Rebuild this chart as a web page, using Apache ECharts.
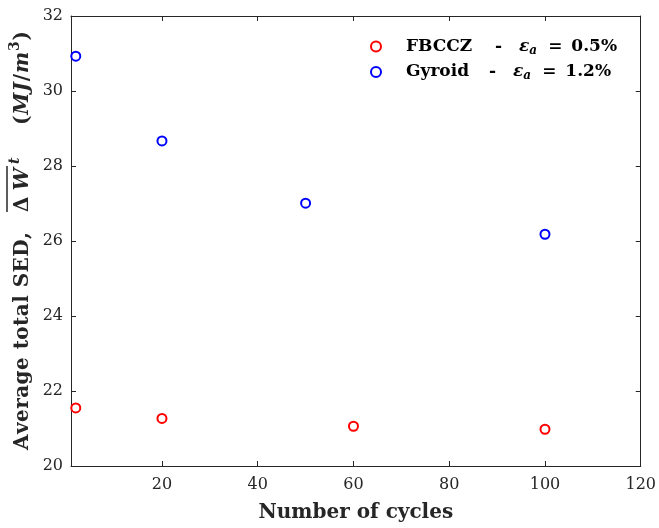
<!DOCTYPE html>
<html>
<head>
<meta charset="utf-8">
<script src="https://cdn.jsdelivr.net/npm/echarts@6/dist/echarts.min.js"></script>
<style>
  html, body { margin: 0; padding: 0; background: #fff; }
  #chart { width: 659px; height: 528px; }
</style>
</head>
<body>
<div id="chart"></div>
<script>
// Average total strain energy density vs. number of cycles
const fbcczCycles = [2, 20, 60, 100];
const fbcczSED = [21.55, 21.27, 21.06, 20.98];
const gyroidCycles = [2, 20, 50, 100];
const gyroidSED = [30.93, 28.67, 27.01, 26.18];
const xTicks = [20, 40, 60, 80, 100, 120];
const strainAmp = { FBCCZ: '0.5%', Gyroid: '1.2%' };

const SERIF = '"DejaVu Serif", "Liberation Serif", serif';
const INK = '#262626';

const chart = echarts.init(document.getElementById('chart'), null, { renderer: 'canvas' });

// measure text so the y-axis title glyphs can be laid out in sequence
const mctx = document.createElement('canvas').getContext('2d');
function measure(font, s) { mctx.font = font; return mctx.measureText(s).width; }

// one run of glyphs, spread so it covers `span` pixels starting at `start`
function run(glyphs, start, span, children) {
  const ws = glyphs.map(g => measure(g.font, g.t));
  const natural = ws.reduce((a, b) => a + b, 0);
  const gap = glyphs.length > 1 ? (span - natural) / (glyphs.length - 1) : 0;
  let x = start;
  glyphs.forEach((g, i) => {
    children.push({
      type: 'text', x: x, y: g.dy || 0,
      style: { text: g.t, font: g.font, fill: INK, textVerticalAlign: 'middle', textAlign: 'left' }
    });
    x += ws[i] + (i < glyphs.length - 1 ? gap : 0);
  });
  return x;
}

function yTitle() {
  const B = 'bold 20px ' + SERIF;
  const BI = 'italic bold 20px ' + SERIF;
  const SUP = 'bold 14px ' + SERIF;
  const SUPI = 'italic bold 14px ' + SERIF;
  const children = [];
  run('Average total SED,'.split('').map(t => ({ t: t, font: B })), 0, 218, children);
  const ovStart = 238;
  const ovEnd = run([{ t: '\u0394', font: B }, { t: 'W', font: BI }], ovStart, 44, children);
  run([{ t: 't', font: SUPI, dy: -8 }], ovEnd + 4, 0, children);
  run([
    { t: '(', font: B }, { t: 'M', font: BI }, { t: 'J', font: BI }, { t: '/', font: B },
    { t: 'm', font: BI }, { t: '3', font: SUP, dy: -8 }, { t: ')', font: B }
  ], 325, 94, children);
  children.push({
    type: 'line',
    shape: { x1: ovStart, y1: -16, x2: ovEnd + 2, y2: -16 },
    style: { stroke: INK, lineWidth: 1.5 }
  });
  return { type: 'group', x: 23, y: 450, rotation: Math.PI / 2, children: children };
}

const circleStyle = (c) => ({ color: '#fff', borderColor: c, borderWidth: 2, opacity: 1 });

const legendRich = {
  n1: { fontFamily: SERIF, fontWeight: 'bold', fontSize: 17, color: '#000', width: 89, lineHeight: 20 },
  n2: { fontFamily: SERIF, fontWeight: 'bold', fontSize: 17, color: '#000', width: 83, lineHeight: 20 },
  d: { fontFamily: SERIF, fontWeight: 'bold', fontSize: 17, color: '#000', width: 24, lineHeight: 20 },
  e: { fontFamily: SERIF, fontStyle: 'italic', fontWeight: 'bold', fontSize: 17, color: '#000', lineHeight: 20 },
  s: { fontFamily: SERIF, fontStyle: 'italic', fontWeight: 'bold', fontSize: 12, color: '#000', lineHeight: 13, verticalAlign: 'bottom', width: 19 },
  q: { fontFamily: SERIF, fontWeight: 'bold', fontSize: 17, color: '#000', width: 23, lineHeight: 20 },
  v: { fontFamily: SERIF, fontWeight: 'bold', fontSize: 17, color: '#000', lineHeight: 20 }
};

const option = {
  animation: false,
  backgroundColor: '#fff',
  grid: { left: 71, right: 16, top: 16, bottom: 62, containLabel: false },
  legend: {
    orient: 'vertical',
    left: 365, top: 33,
    itemWidth: 10, itemHeight: 10, itemGap: 7,
    data: [
      { name: 'FBCCZ', icon: 'circle', itemStyle: circleStyle('#ff0000') },
      { name: 'Gyroid', icon: 'circle', itemStyle: circleStyle('#0000ff') }
    ],
    formatter: function (name) {
      const key = name === 'FBCCZ' ? 'n1' : 'n2';
      return '{' + key + '|' + name + '}{d|-}{e|\u03b5}{s|a}{q|=}{v|' + strainAmp[name] + '}';
    },
    textStyle: { color: '#000', fontFamily: SERIF, padding: [0, 0, 0, 20], rich: legendRich }
  },
  xAxis: [
    {
      type: 'value', min: 1, max: 120,
      name: 'Number of cycles', nameLocation: 'middle', nameGap: 37,
      nameTextStyle: { fontFamily: SERIF, fontWeight: 'bold', fontSize: 20, color: INK },
      axisLine: { show: true, onZero: false, lineStyle: { color: INK, width: 1 } },
      axisTick: { show: true, inside: true, length: 5, customValues: xTicks, lineStyle: { color: INK } },
      axisLabel: { customValues: xTicks, fontFamily: SERIF, fontSize: 16, color: INK, margin: 11 },
      splitLine: { show: false }
    },
    {
      type: 'value', min: 1, max: 120, position: 'top',
      axisLine: { show: true, onZero: false, lineStyle: { color: INK, width: 1 } },
      axisTick: { show: true, inside: true, length: 5, customValues: xTicks, lineStyle: { color: INK } },
      axisLabel: { show: false },
      splitLine: { show: false }
    }
  ],
  yAxis: [
    {
      type: 'value', min: 20, max: 32, interval: 2,
      axisLine: { show: true, onZero: false, lineStyle: { color: INK, width: 1 } },
      axisTick: { show: true, inside: true, length: 5, lineStyle: { color: INK } },
      axisLabel: { fontFamily: SERIF, fontSize: 16, color: INK, margin: 8 },
      splitLine: { show: false }
    },
    {
      type: 'value', min: 20, max: 32, interval: 2, position: 'right',
      axisLine: { show: true, onZero: false, lineStyle: { color: INK, width: 1 } },
      axisTick: { show: true, inside: true, length: 5, lineStyle: { color: INK } },
      axisLabel: { show: false },
      splitLine: { show: false }
    }
  ],
  graphic: [yTitle()],
  series: [
    {
      name: 'FBCCZ', type: 'scatter', xAxisIndex: 0, yAxisIndex: 0,
      symbol: 'circle', symbolSize: 9,
      itemStyle: circleStyle('#ff0000'),
      data: fbcczCycles.map((c, i) => [c, fbcczSED[i]])
    },
    {
      name: 'Gyroid', type: 'scatter', xAxisIndex: 0, yAxisIndex: 0,
      symbol: 'circle', symbolSize: 9,
      itemStyle: circleStyle('#0000ff'),
      data: gyroidCycles.map((c, i) => [c, gyroidSED[i]])
    }
  ]
};

chart.setOption(option);
</script>
</body>
</html>
